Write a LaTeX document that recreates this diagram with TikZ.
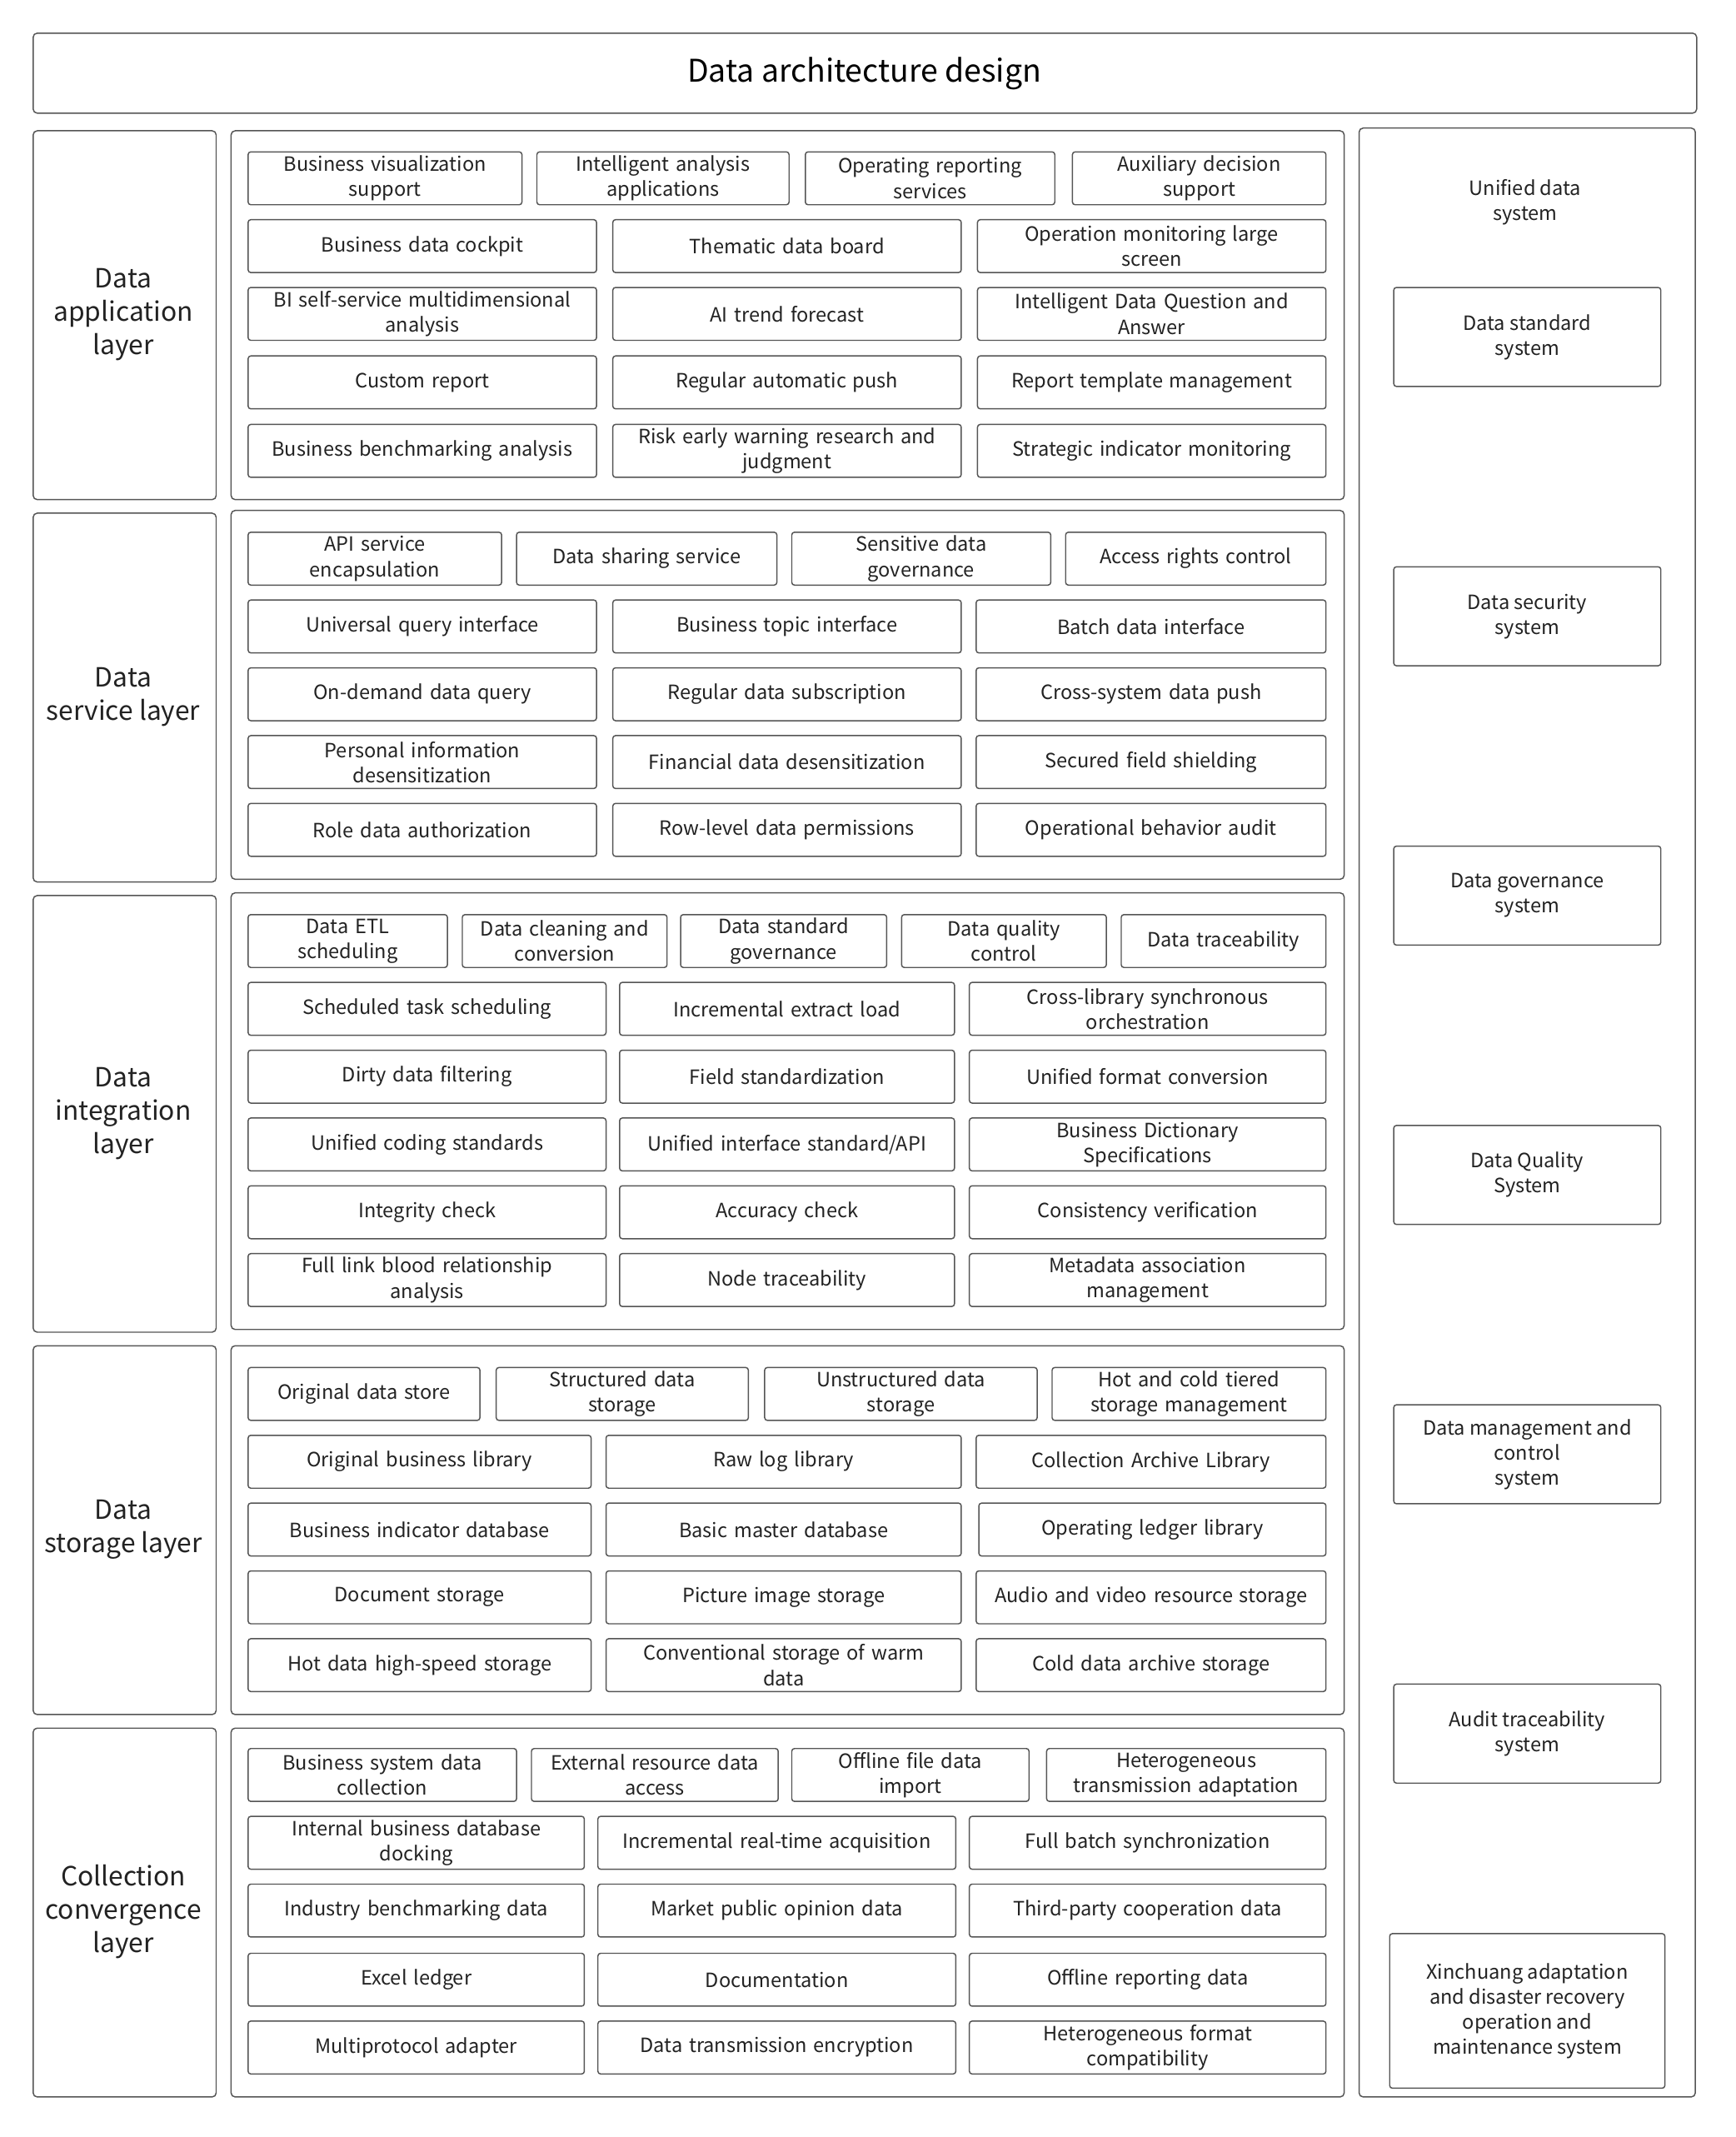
\documentclass[tikz,border=0pt]{standalone}
\usepackage{fontspec}
\setmainfont{Noto Sans CJK SC}
\newcounter{bn}
\definecolor{ln}{HTML}{555555}
\definecolor{tx}{HTML}{222222}
\begin{document}
\begin{tikzpicture}[x=1pt,y=-1pt,
 bx/.style={draw=ln,line width=0.9pt,rounded corners=2pt,minimum height=39,inner sep=0pt,align=center,text=tx,font=\fontsize{14.5}{18.5}\selectfont},
 ob/.style={draw=ln,line width=0.9pt,rounded corners=3pt},
 lb/.style={align=center,text=tx,font=\fontsize{19.5}{24.5}\selectfont}]
\newcommand\bx[4]{\stepcounter{bn}\node[bx,minimum width={#2-#1},text width={#2-#1-10}] (b\thebn) at ({(#1+#2)/2},#3) {#4};}
\newcommand\rb[4]{\node[ob,anchor=north west,minimum width={#2-#1},minimum height={#4-#3}] (#1r#3) at (#1,#3) {};}
\useasboundingbox (0,0) rectangle (1280,1576);
\node[ob,anchor=north west,minimum width=1227,minimum height=59,font=\fontsize{23}{28}\selectfont,text=black] (title) at (24,24) {};
\node[font=\fontsize{23}{28}\selectfont,text=black] (tt) at (637.5,54) {Data architecture design};
% left labels
\rb{24}{159}{96}{368}\node[lb] (l1) at (91,232) {Data\\application\\layer};
\rb{24}{159}{378}{650}\node[lb] (l2) at (91,514) {Data\\service layer};
\rb{24}{159}{660}{982}\node[lb] (l3) at (91,821) {Data\\integration\\layer};
\rb{24}{159}{992}{1264}\node[lb] (l4) at (91,1128) {Data\\storage layer};
\rb{24}{159}{1274}{1546}\node[lb] (l5) at (91,1410) {Collection\\convergence\\layer};
% containers
\rb{170}{991}{96}{368}\rb{170}{991}{376}{648}\rb{170}{991}{658}{980}\rb{170}{991}{992}{1264}\rb{170}{991}{1274}{1546}
% right
\rb{1002}{1250}{94}{1546}
\node[lb,font=\fontsize{14.5}{18.5}\selectfont] (u) at (1125,149) {Unified data\\system};
\node[bx,minimum width=197,minimum height=73] (r1) at (1126.5,248.5) {Data standard\\system};
\node[bx,minimum width=197,minimum height=73] (r2) at (1126.5,454.5) {Data security\\system};
\node[bx,minimum width=197,minimum height=73] (r3) at (1126.5,660.5) {Data governance\\system};
\node[bx,minimum width=197,minimum height=73] (r4) at (1126.5,866.5) {Data Quality\\System};
\node[bx,minimum width=197,minimum height=73] (r5) at (1126.5,1072.5) {Data management and\\control\\system};
\node[bx,minimum width=197,minimum height=73] (r6) at (1126.5,1278.5) {Audit traceability\\system};
\node[bx,minimum width=203,minimum height=114] (r7) at (1126.5,1483) {Xinchuang adaptation\\and disaster recovery\\operation and\\maintenance system};
% application
\bx{183}{385}{131.5}{Business visualization\\support}\bx{396}{582}{131.5}{Intelligent analysis\\applications}\bx{594}{778}{131.5}{Operating reporting\\services}\bx{791}{978}{131.5}{Auxiliary decision\\support}
\bx{183}{440}{181.5}{Business data cockpit}\bx{452}{709}{181.5}{Thematic data board}\bx{721}{978}{181.5}{Operation monitoring large\\screen}
\bx{183}{440}{231.5}{BI self-service multidimensional\\analysis}\bx{452}{709}{231.5}{AI trend forecast}\bx{721}{978}{231.5}{Intelligent Data Question and\\Answer}
\bx{183}{440}{282}{Custom report}\bx{452}{709}{282}{Regular automatic push}\bx{721}{978}{282}{Report template management}
\bx{183}{440}{332.5}{Business benchmarking analysis}\bx{452}{709}{332.5}{Risk early warning research and\\judgment}\bx{721}{978}{332.5}{Strategic indicator monitoring}
% service
\bx{183}{370}{412}{API service\\encapsulation}\bx{381}{573}{412}{Data sharing service}\bx{584}{775}{412}{Sensitive data\\governance}\bx{786}{978}{412}{Access rights control}
\bx{183}{440}{462}{Universal query interface}\bx{452}{709}{462}{Business topic interface}\bx{720}{978}{462}{Batch data interface}
\bx{183}{440}{512}{On-demand data query}\bx{452}{709}{512}{Regular data subscription}\bx{720}{978}{512}{Cross-system data push}
\bx{183}{440}{562}{Personal information\\desensitization}\bx{452}{709}{562}{Financial data desensitization}\bx{720}{978}{562}{Secured field shielding}
\bx{183}{440}{612}{Role data authorization}\bx{452}{709}{612}{Row-level data permissions}\bx{720}{978}{612}{Operational behavior audit}
% integration
\bx{183}{330}{694}{Data ETL\\scheduling}\bx{341}{492}{694}{Data cleaning and\\conversion}\bx{502}{654}{694}{Data standard\\governance}\bx{665}{816}{694}{Data quality\\control}\bx{827}{978}{694}{Data traceability}
\bx{183}{447}{744}{Scheduled task scheduling}\bx{457}{704}{744}{Incremental extract load}\bx{715}{978}{744}{Cross-library synchronous\\orchestration}
\bx{183}{447}{794}{Dirty data filtering}\bx{457}{704}{794}{Field standardization}\bx{715}{978}{794}{Unified format conversion}
\bx{183}{447}{844}{Unified coding standards}\bx{457}{704}{844}{Unified interface standard/API}\bx{715}{978}{844}{Business Dictionary\\Specifications}
\bx{183}{447}{894}{Integrity check}\bx{457}{704}{894}{Accuracy check}\bx{715}{978}{894}{Consistency verification}
\bx{183}{447}{944}{Full link blood relationship\\analysis}\bx{457}{704}{944}{Node traceability}\bx{715}{978}{944}{Metadata association\\management}
% storage
\bx{183}{354}{1028}{Original data store}\bx{366}{552}{1028}{Structured data\\storage}\bx{564}{765}{1028}{Unstructured data\\storage}\bx{776}{978}{1028}{Hot and cold tiered\\storage management}
\bx{183}{436}{1078}{Original business library}\bx{447}{709}{1078}{Raw log library}\bx{720}{978}{1078}{Collection Archive Library}
\bx{183}{436}{1128}{Business indicator database}\bx{447}{709}{1128}{Basic master database}\bx{722}{978}{1128}{Operating ledger library}
\bx{183}{436}{1178}{Document storage}\bx{447}{709}{1178}{Picture image storage}\bx{720}{978}{1178}{Audio and video resource storage}
\bx{183}{436}{1228}{Hot data high-speed storage}\bx{447}{709}{1228}{Conventional storage of warm\\data}\bx{720}{978}{1228}{Cold data archive storage}
% collection
\bx{183}{381}{1309}{Business system data\\collection}\bx{392}{574}{1309}{External resource data\\access}\bx{584}{759}{1309}{Offline file data\\import}\bx{772}{978}{1309}{Heterogeneous\\transmission adaptation}
\bx{183}{431}{1359}{Internal business database\\docking}\bx{441}{705}{1359}{Incremental real-time acquisition}\bx{715}{978}{1359}{Full batch synchronization}
\bx{183}{431}{1409}{Industry benchmarking data}\bx{441}{705}{1409}{Market public opinion data}\bx{715}{978}{1409}{Third-party cooperation data}
\bx{183}{431}{1460}{Excel ledger}\bx{441}{705}{1460}{Documentation}\bx{715}{978}{1460}{Offline reporting data}
\bx{183}{431}{1510}{Multiprotocol adapter}\bx{441}{705}{1510}{Data transmission encryption}\bx{715}{978}{1510}{Heterogeneous format\\compatibility}
\end{tikzpicture}
\end{document}
